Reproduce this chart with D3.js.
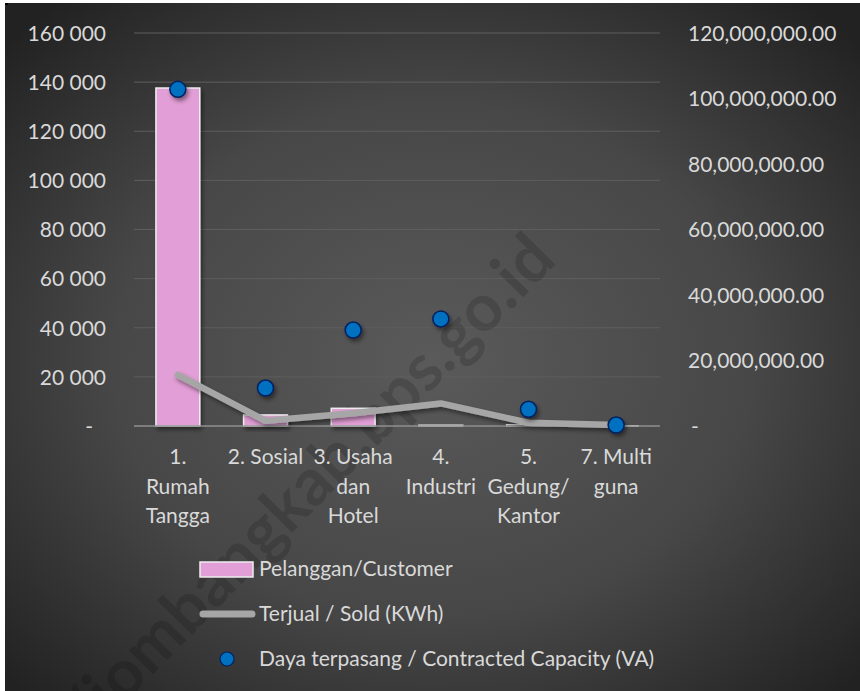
<!DOCTYPE html>
<html>
<head>
<meta charset="utf-8">
<script src="https://cdn.jsdelivr.net/npm/d3@7"></script>
<style>
  html, body { margin: 0; padding: 0; background: #ffffff; }
  svg text { font-family: Lato, "Open Sans", sans-serif; }
</style>
</head>
<body>
<div id="chart"></div>
<script>
/* DATA */
const categories = ["1. Rumah Tangga", "2. Sosial", "3. Usaha dan Hotel", "4. Industri", "5. Gedung/ Kantor", "7. Multi guna"];
const categoryLines = [["1.", "Rumah", "Tangga"], ["2. Sosial"], ["3. Usaha", "dan", "Hotel"], ["4.", "Industri"], ["5.", "Gedung/", "Kantor"], ["7. Multi", "guna"]];
const customers = [137600, 4500, 7200, 300, 500, 150];          // Pelanggan/Customer (left axis)
const soldKwh = [15600000, 1600000, 3900000, 6900000, 1000000, 300000];   // Terjual / Sold (KWh) (right axis)
const capacityVa = [102800000, 11600000, 29300000, 32700000, 5100000, 300000]; // Daya terpasang (VA) (right axis)
const leftTicks = [0, 20000, 40000, 60000, 80000, 100000, 120000, 140000, 160000];
const rightTicks = [0, 20000000, 40000000, 60000000, 80000000, 100000000, 120000000];
const legendLabels = ["Pelanggan/Customer", "Terjual / Sold (KWh)", "Daya terpasang / Contracted Capacity (VA)"];
const watermark = "https://jombangkab.bps.go.id";

/* CONSTANTS */
const width = 860, height = 691;
const margin = { top: 33, left: 134, right: 200, bottom: 265 };
const textColor = "#d9d9d9";
const fontSize = 21;

const rows = categories.map((c, i) => ({
  cat: c, lines: categoryLines[i], cust: customers[i], sold: soldKwh[i], cap: capacityVa[i]
}));

const svg = d3.select("#chart").append("svg")
  .attr("width", width)
  .attr("height", height);

const defs = svg.append("defs");
const grad = defs.append("radialGradient")
  .attr("id", "bg")
  .attr("cx", "50%").attr("cy", "52%").attr("r", "68%");
grad.append("stop").attr("offset", "0%").attr("stop-color", "#5a5a5a");
grad.append("stop").attr("offset", "55%").attr("stop-color", "#474747");
grad.append("stop").attr("offset", "100%").attr("stop-color", "#222222");

const shadow = defs.append("filter")
  .attr("id", "shadow")
  .attr("x", "-50%").attr("y", "-50%").attr("width", "200%").attr("height", "200%");
shadow.append("feDropShadow")
  .attr("dx", 2).attr("dy", 3).attr("stdDeviation", 2)
  .attr("flood-color", "#000").attr("flood-opacity", 0.45);

// background (chart area starts a few px in, like the reference image)
svg.append("rect")
  .attr("x", 5).attr("y", 3)
  .attr("width", width - 5).attr("height", height - 3)
  .attr("fill", "url(#bg)");
svg.append("rect").attr("x", 5).attr("y", 3).attr("width", 3).attr("height", 2).attr("fill", "#000");

/* SCALES */
const xScale = d3.scaleBand()
  .domain(categories)
  .range([margin.left, width - margin.right])
  .paddingInner(0.5)
  .paddingOuter(0.25);

const plotBottom = height - margin.bottom;
const yLeft = d3.scaleLinear().domain([0, 160000]).range([plotBottom, margin.top]);
const yRight = d3.scaleLinear().domain([0, 120000000]).range([plotBottom, margin.top]);

const spaceLocale = d3.formatLocale({ decimal: ".", thousands: " ", grouping: [3], currency: ["", ""] });
const fmtLeft = spaceLocale.format(",");
const fmtRight = d3.format(",.2f");

const x0 = margin.left, x1 = width - margin.right;

// GRIDLINES
svg.append("g")
  .selectAll("line")
  .data(leftTicks.filter(d => d > 0))
  .join("line")
  .attr("x1", x0).attr("x2", x1)
  .attr("y1", d => yLeft(d)).attr("y2", d => yLeft(d))
  .attr("stroke", "#5e5e5e")
  .attr("stroke-width", 1);

// watermark (runs off the lower-left edge, as in the source image)
svg.append("text")
  .attr("transform", "translate(540,244) rotate(-45.5)")
  .attr("text-anchor", "end")
  .attr("dominant-baseline", "central")
  .attr("font-size", 66)
  .attr("font-weight", "bold")
  .attr("fill", "#000")
  .attr("fill-opacity", 0.15)
  .text(watermark);

// AXES (left)
const leftAxis = d3.axisLeft(yLeft)
  .tickValues(leftTicks)
  .tickSize(0)
  .tickPadding(0)
  .tickFormat(d => d === 0 ? "-" : fmtLeft(d));
const gL = svg.append("g")
  .attr("transform", `translate(${106},0)`)
  .call(leftAxis);
gL.select(".domain").remove();
gL.selectAll("text")
  .attr("fill", textColor)
  .attr("font-size", fontSize)
  .attr("dy", "0.35em")
  .attr("dx", d => d === 0 ? -13 : 0);

// AXES (right)
const rightAxis = d3.axisRight(yRight)
  .tickValues(rightTicks)
  .tickSize(0)
  .tickPadding(0)
  .tickFormat(d => d === 0 ? "-" : fmtRight(d));
const gR = svg.append("g")
  .attr("transform", `translate(${688},0)`)
  .call(rightAxis);
gR.select(".domain").remove();
gR.selectAll("text")
  .attr("fill", textColor)
  .attr("font-size", fontSize)
  .attr("dy", "0.35em")
  .attr("dx", d => d === 0 ? 3 : 0);

// BARS
svg.append("g")
  .selectAll("rect")
  .data(rows)
  .join("rect")
  .attr("x", d => xScale(d.cat))
  .attr("y", d => yLeft(d.cust))
  .attr("width", xScale.bandwidth())
  .attr("height", d => plotBottom - yLeft(d.cust))
  .attr("fill", "#e29ed6")
  .attr("stroke", "#ededed")
  .attr("stroke-width", 1.5)
  .attr("filter", "url(#shadow)");

// baseline
svg.append("line")
  .attr("x1", x0).attr("x2", x1)
  .attr("y1", plotBottom).attr("y2", plotBottom)
  .attr("stroke", "#8f8f8f")
  .attr("stroke-width", 1.5);

// LINE
const line = d3.line()
  .x(d => xScale(d.cat) + xScale.bandwidth() / 2)
  .y(d => yRight(d.sold));
svg.append("path")
  .datum(rows)
  .attr("d", line)
  .attr("fill", "none")
  .attr("stroke", "#a6a6a6")
  .attr("stroke-width", 6.5)
  .attr("stroke-linejoin", "round")
  .attr("stroke-linecap", "round")
  .attr("filter", "url(#shadow)");

// DOTS
svg.append("g")
  .selectAll("circle")
  .data(rows)
  .join("circle")
  .attr("cx", d => xScale(d.cat) + xScale.bandwidth() / 2)
  .attr("cy", d => yRight(d.cap))
  .attr("r", 8)
  .attr("fill", "#0070c0")
  .attr("stroke", "#002060")
  .attr("stroke-width", 1.5)
  .attr("filter", "url(#shadow)");

// CATEGORY LABELS
const catG = svg.append("g")
  .selectAll("text")
  .data(rows)
  .join("text")
  .attr("text-anchor", "middle")
  .attr("fill", textColor)
  .attr("font-size", fontSize)
  .attr("x", d => xScale(d.cat) + xScale.bandwidth() / 2)
  .attr("y", plotBottom + 31);
catG.selectAll("tspan")
  .data(d => d.lines.map(l => ({ l, x: xScale(d.cat) + xScale.bandwidth() / 2 })))
  .join("tspan")
  .attr("x", d => d.x)
  .attr("dy", (d, i) => i === 0 ? "0.35em" : "29.5")
  .text(d => d.l);

// LEGEND
const legX = 200, legTextX = 259, legY = [569, 614, 659];
const leg = svg.append("g");
leg.append("rect")
  .attr("x", legX).attr("y", legY[0] - 7)
  .attr("width", 53).attr("height", 15)
  .attr("fill", "#e29ed6")
  .attr("stroke", "#ededed")
  .attr("stroke-width", 1.5);
leg.append("line")
  .attr("x1", legX + 3).attr("x2", legX + 52)
  .attr("y1", legY[1]).attr("y2", legY[1])
  .attr("stroke", "#a6a6a6")
  .attr("stroke-width", 7)
  .attr("stroke-linecap", "round");
leg.append("circle")
  .attr("cx", legX + 27).attr("cy", legY[2])
  .attr("r", 7)
  .attr("fill", "#0070c0")
  .attr("stroke", "#002060")
  .attr("stroke-width", 1.2);
leg.selectAll("text")
  .data(legendLabels)
  .join("text")
  .attr("x", legTextX)
  .attr("y", (d, i) => legY[i])
  .attr("dy", "0.35em")
  .attr("fill", textColor)
  .attr("font-size", fontSize)
  .text(d => d);
</script>
</body>
</html>
